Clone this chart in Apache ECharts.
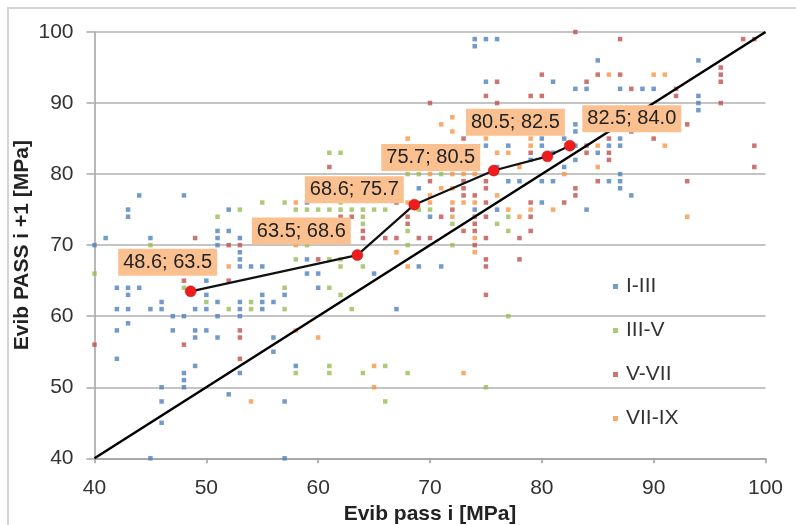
<!DOCTYPE html>
<html>
<head>
<meta charset="utf-8">
<script src="https://cdn.jsdelivr.net/npm/echarts@6/dist/echarts.min.js"></script>
<style>
  html, body { margin: 0; padding: 0; background: #fff; }
  #chart { width: 796px; height: 525px; }
</style>
</head>
<body>
<div id="chart"></div>
<script>
// Measured pairs [Evib pass i, Evib pass i+1] in MPa, grouped by pass range
const seriesNames = ['I-III', 'III-V', 'V-VII', 'VII-IX'];

const passI_III = [
  [40,70],[41,71],[42,64],[42,61],[42,58],[42,54],[43,75],[43,74],[43,64],[43,63],[43,61],[43,59],
  [44,77],[44,64],[45,71],[45,61],[45,40],[46,62],[46,61],[46,50],[46,48],[46,45],[47,60],[47,58],
  [48,77],[48,60],[48,52],[48,51],[48,50],[49,61],[49,58],[49,57],[49,53],[50,65],[50,63],[50,61],
  [50,58],[51,72],[51,71],[51,70],[51,62],[51,60],[51,57],[52,75],[52,72],[52,49],[53,71],[53,69],
  [53,68],[53,67],[53,62],[53,61],[53,60],[53,52],[54,67],[55,67],[55,63],[55,62],[55,61],[56,62],
  [56,57],[56,55],[57,63],[57,48],[57,40],[58,53],[59,76],[59,68],[59,66],[60,66],[60,64],[65,66],
  [67,61],[69,78],[69,67],[70,74],[71,67],[74,99],[74,98],[75,99],[76,99],[74,75],[75,93],[75,84],
  [76,75],[77,84],[77,79],[78,79],[80,79],[81,79],[80,76],[80,85],[80,84],[81,93],[82,81],[83,92],
  [84,92],[83,87],[83,86],[83,84],[83,82],[84,75],[85,96],[85,83],[86,84],[86,79],[87,92],[87,85],
  [87,84],[87,80],[87,79],[87,78],[88,77],[89,92],[90,92],[94,96],[94,91],[94,90],[94,89],[76,81],
  [79,82],[81,83],[82,85]
];

const passIII_V = [
  [40,66],[45,70],[48,64],[50,62],[51,74],[52,61],[53,75],[54,62],[54,61],[55,76],[57,76],[57,64],
  [57,61],[58,75],[58,68],[58,52],[59,75],[59,70],[60,75],[61,83],[62,83],[61,75],[61,68],[61,64],
  [61,53],[61,52],[62,76],[62,75],[62,68],[62,67],[62,63],[63,75],[63,61],[64,75],[64,74],[64,73],
  [64,67],[64,52],[65,75],[66,75],[66,53],[66,48],[68,80],[69,80],[71,80],[68,72],[68,70],[68,52],
  [69,75],[70,75],[72,73],[72,70],[75,50],[76,73],[77,74],[77,72],[77,60]
];

const passV_VII = [
  [40,56],[48,65],[48,56],[49,71],[52,70],[52,65],[53,70],[53,58],[53,57],[53,54],[60,68],[61,81],
  [62,74],[63,74],[64,72],[64,71],[66,71],[67,76],[67,71],[68,74],[68,73],[69,71],[70,71],[71,74],
  [72,75],[73,72],[74,74],[74,73],[74,72],[74,70],[75,76],[75,74],[75,71],[75,68],[75,67],[75,63],
  [78,68],[78,71],[79,76],[79,74],[79,72],[82,76],[70,90],[75,91],[76,93],[76,90],[79,91],[80,91],
  [80,94],[83,100],[87,99],[84,93],[85,94],[87,94],[88,92],[92,92],[92,91],[96,95],[96,94],[96,93],
  [96,90],[98,99],[99,99],[93,87],[88,86],[90,85],[99,84],[99,81],[93,79],[86,85],[86,83],[86,82],
  [84,84],[84,83],[85,79],[75,79],[75,78],[73,79],[73,78],[73,77],[70,79],[83,78],[83,77],[79,83],
  [73,85],[74,77]
];

const passVII_IX = [
  [52,67],[54,48],[58,76],[58,70],[58,58],[60,57],[65,53],[65,50],[67,69],[68,76],[68,67],[70,76],
  [72,76],[72,74],[73,76],[74,76],[74,71],[74,69],[73,52],[77,75],[78,74],[79,75],[81,75],[68,85],
  [70,80],[72,80],[73,80],[74,80],[72,88],[71,87],[72,86],[76,83],[77,83],[79,84],[79,85],[85,84],
  [85,81],[82,80],[86,94],[90,94],[91,94],[91,84],[93,74],[72,78],[70,77],[71,78],[73,83],[74,82],
  [75,85],[77,86],[78,81],[76,77],[71,83]
];

// Mean values per pass step (connected trend)
const meanPoints = [[48.6,63.5],[63.5,68.6],[68.6,75.7],[75.7,80.5],[80.5,82.5],[82.5,84.0]];

// Equality line
const equalityLine = [[40,40],[100,100]];

// Axis range and ticks
const axisMin = 40, axisMax = 100, axisStep = 10;

// Label placement (pixel offsets from each mean marker)
const labelOffsets = [[-23,-29],[-56,-24],[-60,-15],[-63,-13],[-32,-34],[62,-27]];

const colors = ['#4F81BD', '#9BBB59', '#C0504D', '#F79646'];
const font = '"Liberation Sans", Arial, sans-serif';

const scatterData = [passI_III, passIII_V, passV_VII, passVII_IX];
const scatterSeries = scatterData.map((d, i) => ({
  name: seriesNames[i],
  type: 'scatter',
  data: d,
  symbol: 'rect',
  symbolSize: 4.5,
  itemStyle: { color: colors[i] },
  z: 2,
  silent: true
}));

const chart = echarts.init(document.getElementById('chart'), null, { renderer: 'canvas' });

chart.setOption({
  animation: false,
  backgroundColor: '#fff',
  color: colors,
  textStyle: { fontFamily: font },
  graphic: [{
    type: 'rect',
    shape: { x: 8, y: 8, width: 820, height: 560 },
    style: { fill: 'none', stroke: '#D4D4D4', lineWidth: 2 },
    silent: true,
    z: -1
  }],
  grid: {
    left: 94.5, right: 30.5, top: 32, bottom: 66.7,
    containLabel: false,
    outerBoundsMode: 'none'
  },
  legend: {
    data: seriesNames,
    orient: 'vertical',
    left: 608,
    top: 271,
    itemWidth: 5,
    itemHeight: 5,
    itemGap: 23,
    textStyle: { fontSize: 21, color: '#333', fontFamily: font, padding: [0, 0, 0, 3] }
  },
  xAxis: {
    type: 'value',
    min: axisMin, max: axisMax, interval: axisStep,
    name: 'Evib pass i [MPa]',
    nameLocation: 'middle',
    nameGap: 45,
    nameMoveOverlap: false,
    nameTextStyle: { fontSize: 21, fontWeight: 'bold', color: '#222', fontFamily: font },
    axisLine: { lineStyle: { color: '#A0A0A0', width: 1.5 } },
    axisTick: { show: true, length: 5, lineStyle: { color: '#A0A0A0', width: 1.5 } },
    axisLabel: { fontSize: 21, color: '#333', margin: 19, fontFamily: font },
    splitLine: { show: false }
  },
  yAxis: {
    type: 'value',
    min: axisMin, max: axisMax, interval: axisStep,
    name: 'Evib PASS i +1 [MPa]',
    nameLocation: 'middle',
    nameGap: 62,
    nameMoveOverlap: false,
    nameRotate: 90,
    nameTextStyle: { fontSize: 21, fontWeight: 'bold', color: '#222', fontFamily: font },
    axisLine: { show: true, lineStyle: { color: '#A0A0A0', width: 1.5 } },
    axisTick: { show: true, length: 8, lineStyle: { color: '#BEBEBE', width: 2 } },
    axisLabel: { fontSize: 21, color: '#333', margin: 21, fontFamily: font },
    splitLine: { show: true, lineStyle: { color: '#C4C4C4', width: 2 } }
  },
  series: scatterSeries.concat([
    {
      name: 'equality',
      type: 'line',
      data: equalityLine,
      symbol: 'none',
      lineStyle: { color: '#000', width: 2.5 },
      z: 3,
      silent: true
    },
    {
      name: 'mean',
      type: 'line',
      data: meanPoints.map((p, i) => ({
        value: p,
        label: { offset: labelOffsets[i] }
      })),
      symbol: 'circle',
      symbolSize: 11,
      lineStyle: { color: '#111', width: 2.2 },
      itemStyle: { color: '#EE1C1C', borderColor: '#B01010', borderWidth: 0.5 },
      label: {
        show: true,
        position: 'inside',
        align: 'center',
        verticalAlign: 'middle',
        formatter: p => p.value[0].toFixed(1) + '; ' + p.value[1].toFixed(1),
        fontSize: 20,
        color: '#222',
        fontFamily: font,
        backgroundColor: '#FAC090',
        padding: [4, 5, 3, 5]
      },
      z: 5,
      silent: true
    }
  ])
});
</script>
</body>
</html>
